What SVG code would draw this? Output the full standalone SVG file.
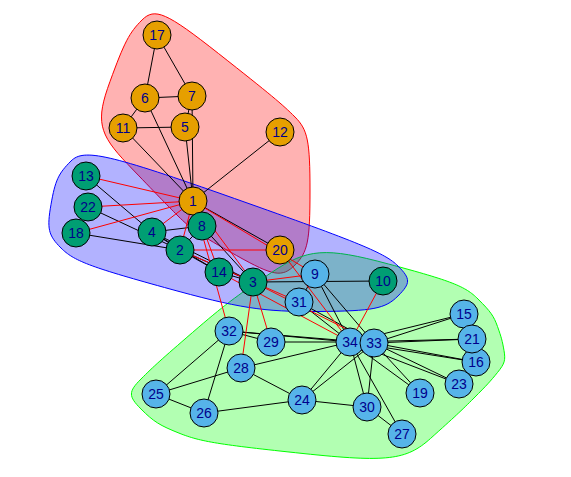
<svg xmlns="http://www.w3.org/2000/svg" width="571" height="477" viewBox="0 0 571 477">
  <style>
    .hull { stroke-width: 1; }
    .e { stroke: #000000; stroke-width: 1; fill: none; }
    .x { stroke: #FF0000; stroke-width: 1; fill: none; }
    .v circle { stroke: #000000; stroke-width: 1; }
    .c1 circle { fill: #E69F00; }
    .c2 circle { fill: #56B4E9; }
    .c3 circle { fill: #009E73; }
    .v text { font-family: "Liberation Sans", Arial, sans-serif; font-size: 14px; fill: #00008B; text-anchor: middle; }
  </style>
  <rect width="571" height="477" fill="#FFFFFF"/>

  <!-- community hulls -->
  <g id="hulls">
    <path id="hull-red" class="hull" fill="#FF0000" fill-opacity="0.3" stroke="#FF0000"
      d="M142,20 C154.75,7.25 166.2,12.3 218.5,53.5 C270.8,94.7 282.25,104.25 295,117 C307.75,129.75 310,140.85 310,191 C310,241.15 307.75,252.25 295,265 C282.25,277.75 273.5,276.3 236.5,255.5 C199.5,234.7 190.75,228.75 178,216 C165.25,203.25 157.75,195.5 128,164.5 C98.25,133.5 95.55,121 110,81.5 C124.45,41.98 129.25,32.75 142,20 Z"/>
    <path id="hull-green" class="hull" fill="#00FF00" fill-opacity="0.3" stroke="#00FF00"
      d="M271.5,272.5 C307.6,248.3 325.2,247 388.5,264 C451.8,281 465.25,286.25 478,299 C490.75,311.75 493.7,315.9 497.5,326.5 C501.3,337.1 502.3,340.7 504,350.5 C505.7,360.3 504.7,363.6 497.5,372.5 C490.3,381.4 486.75,385.25 474,398 C461.25,410.75 454.7,416.8 430.5,438.5 C406.3,460.2 387.2,462.4 303,453.5 C218.85,444.6 200.4,441.6 180,433.5 C159.6,425.4 153.75,421.75 141,409 C128.25,396.25 128.25,391.75 141,379 C153.75,366.25 161.5,359.3 192.5,332.5 C223.5,305.7 235.4,296.7 271.5,272.5 Z"/>
    <path id="hull-blue" class="hull" fill="#0000FF" fill-opacity="0.3" stroke="#0000FF"
      d="M71,161 C83.75,148.25 108.3,153.9 234.5,198.5 C360.7,243.1 385.25,253.25 398,266 C410.75,278.75 410.75,283.25 398,296 C385.25,308.75 373.25,311.1 318,311.5 C262.75,311.9 239.7,308.3 164.5,287.5 C89.3,266.7 73.75,260.75 61,248 C48.25,235.25 46.75,228.7 51,204.5 C55.25,180.3 58.25,173.75 71,161 Z"/>
  </g>

  <!-- connectors -->
  <g id="edges">
    <path class="e" d="M193,201 L185,127"/>
    <path class="e" d="M193,201 L145,98"/>
    <path class="e" d="M193,201 L192,96"/>
    <path class="e" d="M193,201 L123,128"/>
    <path class="e" d="M193,201 L280,132"/>
    <path class="e" d="M193,201 L280,250"/>
    <path class="e" d="M180,250 L253,282"/>
    <path class="e" d="M180,250 L152,232"/>
    <path class="e" d="M180,250 L202,226"/>
    <path class="e" d="M180,250 L219,272"/>
    <path class="e" d="M180,250 L76,233"/>
    <path class="e" d="M180,250 L88,207"/>
    <path class="e" d="M253,282 L152,232"/>
    <path class="e" d="M253,282 L202,226"/>
    <path class="e" d="M253,282 L383,281"/>
    <path class="e" d="M253,282 L219,272"/>
    <path class="e" d="M152,232 L202,226"/>
    <path class="e" d="M152,232 L86,176"/>
    <path class="e" d="M152,232 L219,272"/>
    <path class="e" d="M185,127 L192,96"/>
    <path class="e" d="M185,127 L123,128"/>
    <path class="e" d="M145,98 L192,96"/>
    <path class="e" d="M145,98 L123,128"/>
    <path class="e" d="M145,98 L157,35"/>
    <path class="e" d="M192,96 L157,35"/>
    <path class="e" d="M315,274 L299,302"/>
    <path class="e" d="M315,274 L374,343"/>
    <path class="e" d="M315,274 L350,342"/>
    <path class="e" d="M464,314 L374,343"/>
    <path class="e" d="M464,314 L350,342"/>
    <path class="e" d="M476,362 L374,343"/>
    <path class="e" d="M476,362 L350,342"/>
    <path class="e" d="M420,393 L374,343"/>
    <path class="e" d="M420,393 L350,342"/>
    <path class="e" d="M472,339 L374,343"/>
    <path class="e" d="M472,339 L350,342"/>
    <path class="e" d="M459,384 L374,343"/>
    <path class="e" d="M459,384 L350,342"/>
    <path class="e" d="M302,400 L204,413"/>
    <path class="e" d="M302,400 L241,368"/>
    <path class="e" d="M302,400 L367,407"/>
    <path class="e" d="M302,400 L374,343"/>
    <path class="e" d="M302,400 L350,342"/>
    <path class="e" d="M156,394 L204,413"/>
    <path class="e" d="M156,394 L241,368"/>
    <path class="e" d="M156,394 L229,331"/>
    <path class="e" d="M204,413 L229,331"/>
    <path class="e" d="M402,434 L367,407"/>
    <path class="e" d="M402,434 L350,342"/>
    <path class="e" d="M241,368 L350,342"/>
    <path class="e" d="M271,342 L229,331"/>
    <path class="e" d="M271,342 L350,342"/>
    <path class="e" d="M367,407 L374,343"/>
    <path class="e" d="M367,407 L350,342"/>
    <path class="e" d="M299,302 L374,343"/>
    <path class="e" d="M299,302 L350,342"/>
    <path class="e" d="M229,331 L374,343"/>
    <path class="e" d="M229,331 L350,342"/>
    <path class="e" d="M374,343 L350,342"/>
    <!-- edges between communities -->
    <path class="x" d="M193,201 L180,250"/>
    <path class="x" d="M193,201 L253,282"/>
    <path class="x" d="M193,201 L152,232"/>
    <path class="x" d="M193,201 L202,226"/>
    <path class="x" d="M193,201 L315,274"/>
    <path class="x" d="M193,201 L86,176"/>
    <path class="x" d="M193,201 L219,272"/>
    <path class="x" d="M193,201 L76,233"/>
    <path class="x" d="M193,201 L88,207"/>
    <path class="x" d="M193,201 L229,331"/>
    <path class="x" d="M180,250 L280,250"/>
    <path class="x" d="M180,250 L299,302"/>
    <path class="x" d="M253,282 L315,274"/>
    <path class="x" d="M253,282 L241,368"/>
    <path class="x" d="M253,282 L271,342"/>
    <path class="x" d="M253,282 L374,343"/>
    <path class="x" d="M383,281 L350,342"/>
    <path class="x" d="M219,272 L350,342"/>
    <path class="x" d="M280,250 L350,342"/>
  </g>

  <!-- vertices -->
  <g id="n1" class="v c1"><circle cx="193" cy="201" r="14"/><text x="193" y="206">1</text></g>
  <g id="n2" class="v c3"><circle cx="180" cy="250" r="14"/><text x="180" y="255">2</text></g>
  <g id="n3" class="v c3"><circle cx="253" cy="282" r="14"/><text x="253" y="287">3</text></g>
  <g id="n4" class="v c3"><circle cx="152" cy="232" r="14"/><text x="152" y="237">4</text></g>
  <g id="n5" class="v c1"><circle cx="185" cy="127" r="14"/><text x="185" y="132">5</text></g>
  <g id="n6" class="v c1"><circle cx="145" cy="98" r="14"/><text x="145" y="103">6</text></g>
  <g id="n7" class="v c1"><circle cx="192" cy="96" r="14"/><text x="192" y="101">7</text></g>
  <g id="n8" class="v c3"><circle cx="202" cy="226" r="14"/><text x="202" y="231">8</text></g>
  <g id="n9" class="v c2"><circle cx="315" cy="274" r="14"/><text x="315" y="279">9</text></g>
  <g id="n10" class="v c3"><circle cx="383" cy="281" r="14"/><text x="383" y="286">10</text></g>
  <g id="n11" class="v c1"><circle cx="123" cy="128" r="14"/><text x="123" y="133">11</text></g>
  <g id="n12" class="v c1"><circle cx="280" cy="132" r="14"/><text x="280" y="137">12</text></g>
  <g id="n13" class="v c3"><circle cx="86" cy="176" r="14"/><text x="86" y="181">13</text></g>
  <g id="n14" class="v c3"><circle cx="219" cy="272" r="14"/><text x="219" y="277">14</text></g>
  <g id="n15" class="v c2"><circle cx="464" cy="314" r="14"/><text x="464" y="319">15</text></g>
  <g id="n16" class="v c2"><circle cx="476" cy="362" r="14"/><text x="476" y="367">16</text></g>
  <g id="n17" class="v c1"><circle cx="157" cy="35" r="14"/><text x="157" y="40">17</text></g>
  <g id="n18" class="v c3"><circle cx="76" cy="233" r="14"/><text x="76" y="238">18</text></g>
  <g id="n19" class="v c2"><circle cx="420" cy="393" r="14"/><text x="420" y="398">19</text></g>
  <g id="n20" class="v c1"><circle cx="280" cy="250" r="14"/><text x="280" y="255">20</text></g>
  <g id="n21" class="v c2"><circle cx="472" cy="339" r="14"/><text x="472" y="344">21</text></g>
  <g id="n22" class="v c3"><circle cx="88" cy="207" r="14"/><text x="88" y="212">22</text></g>
  <g id="n23" class="v c2"><circle cx="459" cy="384" r="14"/><text x="459" y="389">23</text></g>
  <g id="n24" class="v c2"><circle cx="302" cy="400" r="14"/><text x="302" y="405">24</text></g>
  <g id="n25" class="v c2"><circle cx="156" cy="394" r="14"/><text x="156" y="399">25</text></g>
  <g id="n26" class="v c2"><circle cx="204" cy="413" r="14"/><text x="204" y="418">26</text></g>
  <g id="n27" class="v c2"><circle cx="402" cy="434" r="14"/><text x="402" y="439">27</text></g>
  <g id="n28" class="v c2"><circle cx="241" cy="368" r="14"/><text x="241" y="373">28</text></g>
  <g id="n29" class="v c2"><circle cx="271" cy="342" r="14"/><text x="271" y="347">29</text></g>
  <g id="n30" class="v c2"><circle cx="367" cy="407" r="14"/><text x="367" y="412">30</text></g>
  <g id="n31" class="v c2"><circle cx="299" cy="302" r="14"/><text x="299" y="307">31</text></g>
  <g id="n32" class="v c2"><circle cx="229" cy="331" r="14"/><text x="229" y="336">32</text></g>
  <g id="n34" class="v c2"><circle cx="350" cy="342" r="14"/><text x="350" y="347">34</text></g>
  <g id="n33" class="v c2"><circle cx="374" cy="343" r="14"/><text x="374" y="348">33</text></g>
</svg>
